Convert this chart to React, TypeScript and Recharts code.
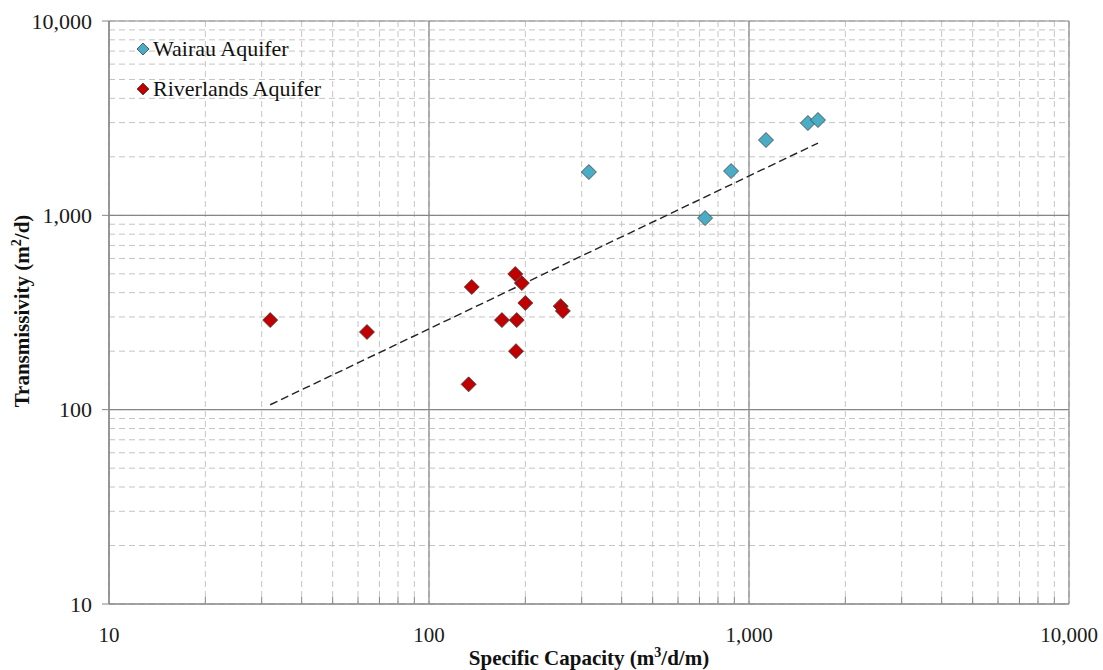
import React from 'react';
import {
  ScatterChart, Scatter, XAxis, YAxis, CartesianGrid, ReferenceLine, Label,
} from 'recharts';

// ---- data ----
const wairauX = [316, 729, 879, 1130, 1528, 1643];
const wairauY = [1670, 968, 1690, 2440, 2985, 3093];
const riverX = [31.9, 64, 136, 133, 169, 186, 195, 188, 187, 200, 258, 262];
const riverY = [289, 251, 428, 135, 289, 499, 448, 289, 200, 354, 341, 322];
const trendX = [31.9, 1643];
const trendY = [106, 2355];

const logTicks = [
  10, 20, 30, 40, 50, 60, 70, 80, 90,
  100, 200, 300, 400, 500, 600, 700, 800, 900,
  1000, 2000, 3000, 4000, 5000, 6000, 7000, 8000, 9000, 10000,
];
const decades = [10, 100, 1000, 10000];
const seriesNames = ['Wairau Aquifer', 'Riverlands Aquifer'];
const seriesColors = ['#4BACC6', '#C00000'];

const zip = (xs: number[], ys: number[]) => xs.map((x, i) => ({ x, y: ys[i] }));
const wairau = zip(wairauX, wairauY);
const river = zip(riverX, riverY);
const trend = zip(trendX, trendY);

const fmt = (v: number) => v.toLocaleString('en-US');
const FONT = "'Liberation Serif', 'Times New Roman', serif";
const AXIS = '#868686';

const Diamond = (color: string, r: number) => (props: any) => {
  const { cx, cy } = props;
  if (cx == null || cy == null) return <g />;
  return (
    <polygon
      points={`${cx},${cy - r} ${cx + r},${cy} ${cx},${cy + r} ${cx - r},${cy}`}
      fill={color}
      stroke="#3f3f3f"
      strokeWidth={0.8}
    />
  );
};

const XTick = (props: any) => {
  const { x, y, payload } = props;
  const v = payload.value;
  const isMajor = decades.includes(v);
  return (
    <g>
      {!isMajor && <line x1={x} x2={x} y1={y - 30} y2={y - 24} stroke={AXIS} strokeWidth={1} />}
      {isMajor && (
        <text x={x} y={y} dy="0.71em" textAnchor="middle" style={{ fontFamily: FONT }} fontSize={21} fill="#1a1a1a">
          {fmt(v)}
        </text>
      )}
    </g>
  );
};

const YTick = (props: any) => {
  const { x, y, payload } = props;
  const v = payload.value;
  if (!decades.includes(v)) return <g />;
  return (
    <g>
      <line x1={x + 10} x2={x + 17} y1={y} y2={y} stroke={AXIS} strokeWidth={1} />
      <text x={x} y={y} dy="0.355em" textAnchor="end" style={{ fontFamily: FONT }} fontSize={22} fill="#1a1a1a">
        {fmt(v)}
      </text>
    </g>
  );
};

const LegendBox = () => (
  <div
    style={{
      position: 'absolute',
      left: 136,
      top: 29,
      fontFamily: FONT,
      fontSize: 22,
      color: '#111',
      pointerEvents: 'none',
    }}
  >
    {seriesNames.map((n, i) => (
      <div key={n} style={{ display: 'flex', alignItems: 'center', height: 40 }}>
        <svg width={14} height={14} style={{ marginRight: 3 }}>
          <polygon points="7,1 13,7 7,13 1,7" fill={seriesColors[i]} stroke="#3f3f3f" strokeWidth={0.8} />
        </svg>
        <span>{n}</span>
      </div>
    ))}
  </div>
);

export default function App() {
  return (
    <div style={{ position: 'absolute', left: 0, top: 0, width: 1103, height: 670, background: '#fff' }}>
      <ScatterChart
        width={1103}
        height={670}
        margin={{ top: 21, right: 34, bottom: 0, left: 0 }}
      >
        <CartesianGrid stroke="#c4c4c4" strokeDasharray="6 4" strokeWidth={1} />
        <XAxis
          type="number"
          dataKey="x"
          scale="log"
          domain={[10, 10000]}
          ticks={logTicks}
          allowDataOverflow
          height={66}
          tickSize={0}
          tickMargin={23}
          tickLine={false}
          axisLine={{ stroke: AXIS, strokeWidth: 1.2 }}
          tick={<XTick />}
          interval={0}
        >
          <Label
            content={() => (
              <text x={589} y={665} textAnchor="middle" style={{ fontFamily: FONT }} fontSize={21} fontWeight="bold" fill="#111">
                Specific Capacity (m
                <tspan fontSize={14} dy={-8}>3</tspan>
                <tspan dy={8}>/d/m)</tspan>
              </text>
            )}
          />
        </XAxis>
        <YAxis
          type="number"
          dataKey="y"
          scale="log"
          domain={[10, 10000]}
          ticks={logTicks}
          allowDataOverflow
          width={109}
          tickSize={0}
          tickMargin={17}
          tickLine={false}
          axisLine={{ stroke: AXIS, strokeWidth: 1.2 }}
          tick={<YTick />}
          interval={0}
        >
          <Label
            content={() => (
              <text
                x={0}
                y={0}
                transform="translate(29, 311) rotate(-90)"
                textAnchor="middle"
                style={{ fontFamily: FONT }}
                fontSize={21}
                fontWeight="bold"
                fill="#111"
              >
                Transmissivity (m
                <tspan fontSize={14} dy={-8}>2</tspan>
                <tspan dy={8}>/d)</tspan>
              </text>
            )}
          />
        </YAxis>
        {decades.map((d) => (
          <ReferenceLine key={'x' + d} x={d} stroke={AXIS} strokeWidth={1.2} />
        ))}
        {decades.map((d) => (
          <ReferenceLine key={'y' + d} y={d} stroke={AXIS} strokeWidth={1.2} />
        ))}
        <Scatter
          name="trend"
          data={trend}
          legendType="none"
          isAnimationActive={false}
          line={{ stroke: '#222', strokeWidth: 1.4, strokeDasharray: '8 4' }}
          shape={() => <g />}
        />
        <Scatter
          name={seriesNames[0]}
          data={wairau}
          fill={seriesColors[0]}
          isAnimationActive={false}
          shape={Diamond(seriesColors[0], 7.5)}
        />
        <Scatter
          name={seriesNames[1]}
          data={river}
          fill={seriesColors[1]}
          isAnimationActive={false}
          shape={Diamond(seriesColors[1], 7.5)}
        />
      </ScatterChart>
      <LegendBox />
    </div>
  );
}
